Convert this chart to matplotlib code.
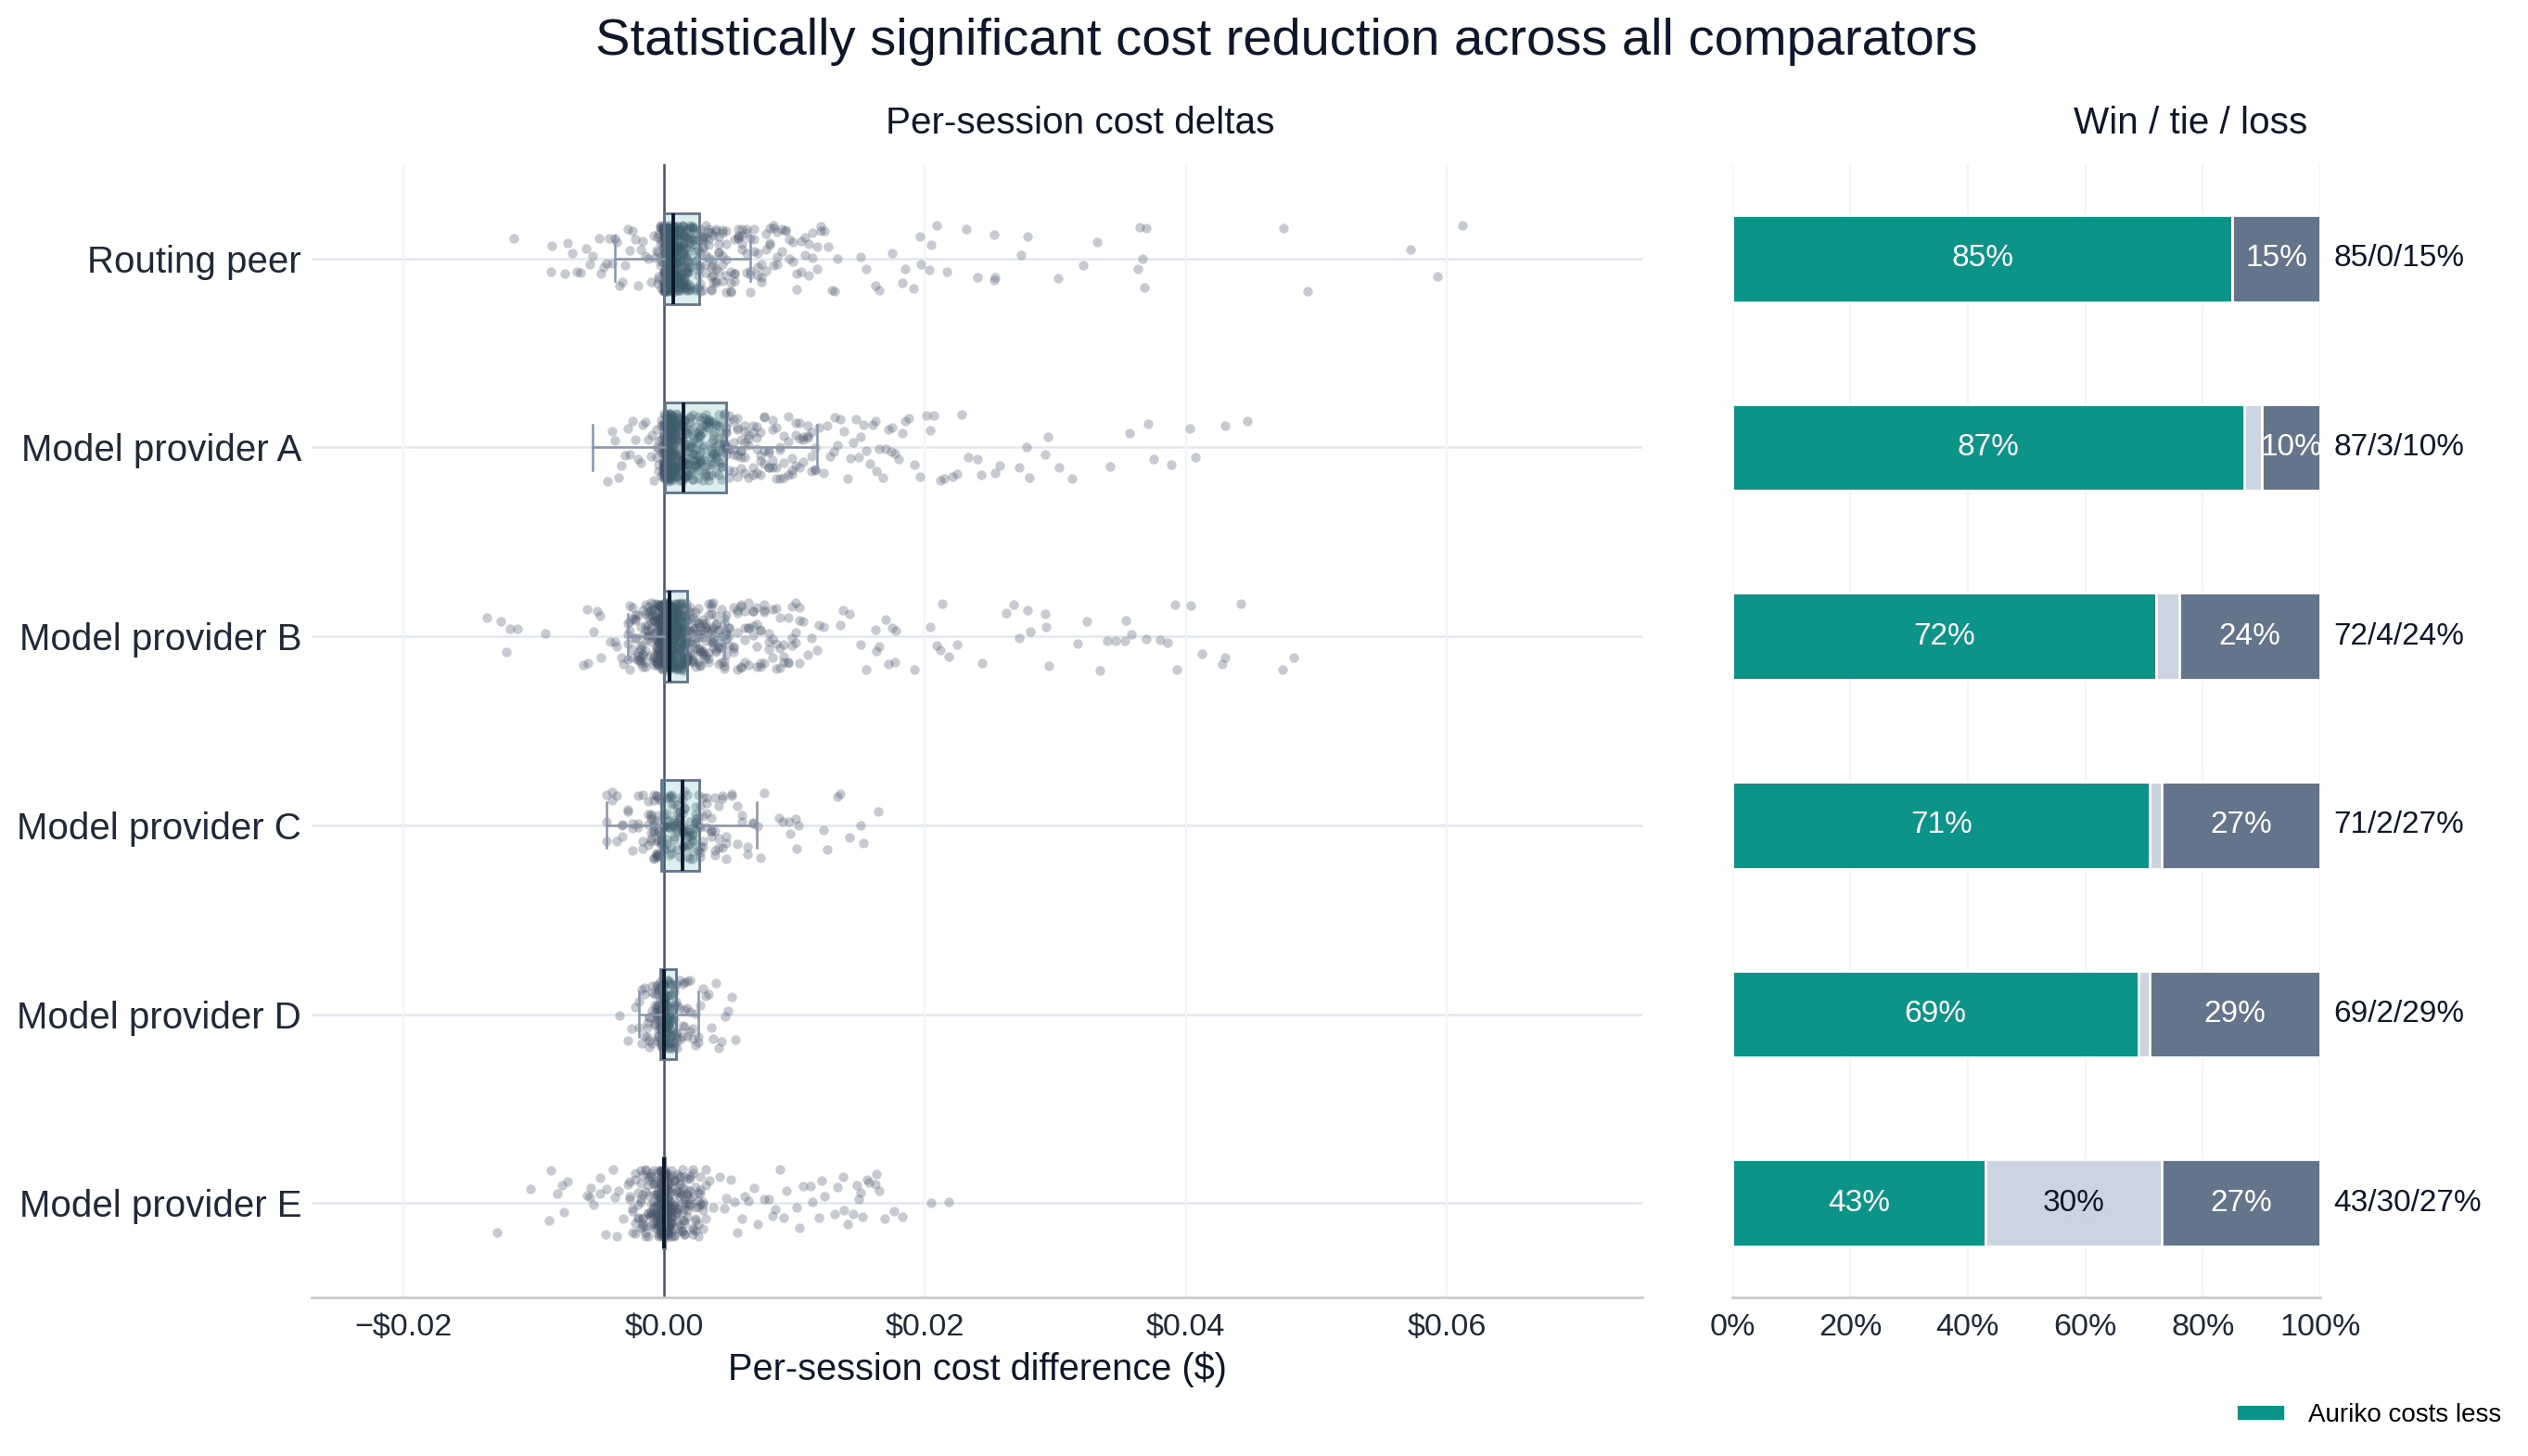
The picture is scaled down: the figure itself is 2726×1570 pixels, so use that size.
import numpy as np
import matplotlib
matplotlib.use("Agg")
import matplotlib.pyplot as plt

plt.rcParams['font.family'] = ['Liberation Sans', 'DejaVu Sans']

# ---------------- data ----------------
CATEGORIES = ["Routing peer", "Model provider A", "Model provider B",
              "Model provider C", "Model provider D", "Model provider E"]

# per-session cost deltas, in units of $0.0001 (dense core as value/count pairs + individual tail points)
ROUTING_CORE_X = [-5, -4, -3, -2, -1, 0, 1, 2, 3, 4, 5, 6, 7, 8, 9, 10, 11, 12, 13, 14, 15, 16, 17, 18, 19, 20,
                  22, 24, 26, 28, 30, 32, 34, 36, 38, 40,
                  42, 45, 48, 51, 54, 57, 60, 63, 66, 69, 72, 75, 78, 81, 84, 87, 90, 93, 96, 99, 102, 105,
                  108, 111, 114, 117, 120, 123, 126, 129]
ROUTING_CORE_N = [3, 3, 4, 6, 8, 20, 22, 22, 21, 20, 19, 18, 17, 15, 14, 13, 12, 12, 11, 10, 9, 9, 8, 8, 8, 7,
                  7, 7, 6, 6, 6, 5, 5, 5, 5, 5,
                  5, 5, 5, 4, 4, 4, 4, 4, 4, 3, 3, 3, 3, 3, 3, 3, 2, 2, 2, 2, 2, 2,
                  2, 2, 2, 2, 2, 1, 1, 1]
ROUTING_TAIL_X = [-115, -87, -86, -76, -74, -70, -67, -64, -60, -57, -55, -50, -48, -46, -44, -42, -40, -38,
                  -36, -34, -32, -30, -28, -26, -24, -22, -20, -18, -16, -14, -12, -10, -8, -7, -6,
                  131, 133, 151, 155, 162, 165, 175, 183, 185, 191, 196, 197, 203, 205, 209, 217, 232, 240,
                  253, 253, 254, 274, 279, 302, 321, 332, 363, 365, 367, 368, 370, 475, 493, 572, 593, 612]

PROV_A_CORE_X = [-6, -4, -2, -1, 0, 1, 2, 3, 4, 5, 6, 7, 8, 9, 10, 12, 14, 16, 18, 20, 22, 24, 26, 28, 30,
                 32, 34, 36, 38, 40, 42, 44, 46, 48,
                 50, 53, 56, 59, 62, 65, 68, 71, 74, 77, 80, 83, 86, 89, 92, 95, 98, 101, 104, 107, 110,
                 113, 116]
PROV_A_CORE_N = [3, 4, 5, 8, 20, 22, 22, 21, 20, 19, 18, 16, 15, 14, 13, 12, 12, 11, 11, 10, 10, 9, 9, 8, 8,
                 8, 8, 7, 7, 7, 7, 7, 6, 6,
                 5, 5, 5, 5, 5, 4, 4, 4, 4, 4, 4, 4, 3, 3, 3, 3, 3, 3, 3, 3, 3,
                 3, 3]
PROV_A_TAIL_X = [-43, -40, -38, -35, -33, -30, -28, -26, -24, -22, -20, -18, -16, -14, -12, -10, -9, -8,
                 119, 122, 125, 127, 130, 131, 133, 135, 138, 141, 143, 145, 147, 149, 151, 153,
                 155, 158, 160, 162, 163, 165, 168, 170, 172, 174, 175, 177, 180, 183, 185, 188, 192, 196,
                 201, 204, 207, 212, 215, 221, 225, 228, 233, 240, 243, 254, 257, 272, 278, 280, 292, 294,
                 303, 313, 342, 357, 371, 375, 389, 403, 407, 430, 447]

PROV_B_CORE_X = [-28, -26, -24, -22, -20, -18, -16, -14, -12, -10, -8, -6, -4, -3, -2, -1,
                 0, 1, 2, 3, 4, 5, 6, 7, 8, 9, 10, 11, 12, 13, 14, 15, 16, 17, 18,
                 20, 22, 24, 26, 28, 30, 32, 34, 36, 38, 40, 42, 44, 46, 48,
                 50, 53, 56, 59, 62, 65, 68, 71, 74, 77, 80, 83, 86, 89, 92, 95, 98, 101, 104]
PROV_B_CORE_N = [4, 4, 4, 5, 5, 6, 6, 7, 8, 9, 12, 15, 18, 20, 22, 25,
                 36, 34, 31, 28, 26, 23, 21, 19, 17, 15, 14, 13, 12, 11, 11, 10, 10, 9, 9,
                 8, 8, 7, 7, 7, 7, 6, 6, 6, 6, 5, 5, 5, 5, 5,
                 4, 4, 4, 4, 4, 4, 4, 4, 4, 4, 3, 3, 3, 3, 3, 3, 3, 3, 3]
PROV_B_TAIL_X = [-136, -125, -121, -118, -112, -91, -62, -59, -58, -54, -51, -49, -48, -41, -38, -36, -33, -31,
                 107, 110, 113, 117, 119, 122, 135, 137, 142, 151, 155, 162, 163, 165, 170, 172, 175, 177, 178,
                 192, 204, 209, 212, 213, 218, 225, 244, 262, 268, 272, 279, 281, 292, 293, 295, 317, 324,
                 334, 340, 346, 353, 354, 358, 370, 380, 386, 392, 393, 404, 412, 428, 430, 442, 474, 483]

PROV_C_CORE_X = [-44, -40, -36, -32, -28, -24, -20, -16, -12, -10, -8, -6, -4, -2,
                 0, 2, 4, 6, 8, 10, 12, 14, 16, 18, 20, 22, 24, 26, 28,
                 30, 33, 36, 39, 42, 45, 48, 52, 56, 60, 64, 68]
PROV_C_CORE_N = [3, 2, 2, 3, 2, 3, 3, 3, 4, 6, 8, 8, 7, 6,
                 6, 6, 6, 6, 6, 7, 7, 7, 6, 6, 6, 6, 6, 5, 5,
                 4, 4, 4, 4, 3, 3, 3, 2, 2, 2, 2, 2]
PROV_C_TAIL_X = [72, 74, 77, 88, 91, 96, 97, 101, 102, 103, 122, 125, 133, 135, 142, 151, 153, 164]

PROV_D_CORE_X = [-19, -17, -15, -13, -11, -9, -7, -6, -5, -4, -3, -2, -1, 0, 1, 2, 3, 4, 5, 6, 7, 8, 9,
                 10, 12, 14, 16, 18, 20, 22, 24, 26]
PROV_D_CORE_N = [2, 2, 3, 3, 4, 4, 5, 5, 6, 7, 9, 10, 12, 14, 12, 10, 9, 8, 7, 6, 5, 5, 4,
                 4, 3, 3, 3, 3, 3, 2, 2, 2]
PROV_D_TAIL_X = [-34, -28, -25, -22, 28, 30, 32, 34, 36, 38, 40, 42, 44, 47, 49, 52, 55]

PROV_E_CORE_X = [-26, -24, -22, -20, -18, -16, -14, -12, -10, -8, -6, -4, -3, -2, -1, 0, 1, 2, 3, 4,
                 6, 8, 10, 12, 14, 16, 18, 20, 22, 24, 26, 28, 30, 32]
PROV_E_CORE_N = [3, 3, 4, 4, 5, 6, 6, 7, 9, 10, 12, 14, 17, 20, 24, 32, 24, 20, 17, 14,
                 12, 10, 9, 9, 8, 8, 7, 6, 6, 5, 5, 4, 4, 3]
PROV_E_TAIL_X = [-128, -102, -88, -87, -82, -78, -77, -74, -59, -57, -56, -54, -49, -49, -45, -44, -39, -38,
                 -36, -35, -31, -28,
                 35, 38, 43, 46, 48, 51, 54, 56, 60, 62, 65, 69, 72, 77, 80, 83, 85, 89, 92, 94, 102, 104,
                 107, 112, 114, 119, 121, 123, 131, 133, 137, 138, 141, 145, 148, 149, 151, 152, 156, 157,
                 162, 163, 165, 169, 176, 183, 205, 218]

# box statistics ($)
BOX_Q1 = [0.0000, 0.0001, 0.0000, -0.0002, -0.0003, -0.0001]
BOX_MED = [0.0007, 0.0015, 0.0004, 0.0014, 0.0000, 0.0000]
BOX_Q3 = [0.0027, 0.0048, 0.0018, 0.0027, 0.0009, 0.0001]
WHIS_LO = [-0.0038, -0.0055, -0.0028, -0.0044, -0.0019, -0.0001]
WHIS_HI = [0.0066, 0.0117, 0.0046, 0.0071, 0.0026, 0.0001]

# win / tie / loss shares (%)
WIN = [85, 87, 72, 71, 69, 43]
TIE = [0, 3, 4, 2, 2, 30]
LOSS = [15, 10, 24, 27, 29, 27]

X_TICKS = [-0.02, 0.0, 0.02, 0.04, 0.06]
X_TICK_LABELS = ["\u2212\\$0.02", "\\$0.00", "\\$0.02", "\\$0.04", "\\$0.06"]
PCT_TICKS = [0, 20, 40, 60, 80, 100]
PCT_TICK_LABELS = ["0%", "20%", "40%", "60%", "80%", "100%"]

# ---------------- style ----------------
TEAL = "#0d9488"
TIE_C = "#cbd5e1"
LOSS_C = "#64748b"
DARK = "#0f172a"
TXT = "#1f2937"

cores = [(ROUTING_CORE_X, ROUTING_CORE_N, ROUTING_TAIL_X),
         (PROV_A_CORE_X, PROV_A_CORE_N, PROV_A_TAIL_X),
         (PROV_B_CORE_X, PROV_B_CORE_N, PROV_B_TAIL_X),
         (PROV_C_CORE_X, PROV_C_CORE_N, PROV_C_TAIL_X),
         (PROV_D_CORE_X, PROV_D_CORE_N, PROV_D_TAIL_X),
         (PROV_E_CORE_X, PROV_E_CORE_N, PROV_E_TAIL_X)]


def strip_offsets(n, seed):
    """Deterministic, hash-based vertical spread for a jittered strip (layout only)."""
    h = np.arange(n, dtype=np.uint64) + np.uint64(seed * 7919 + 1)
    m = np.uint64(0xFFFFFFFF)
    h = (((h >> np.uint64(16)) ^ h) * np.uint64(0x45D9F3B)) & m
    h = (((h >> np.uint64(16)) ^ h) * np.uint64(0x45D9F3B)) & m
    h = (h >> np.uint64(16)) ^ h
    return (h.astype(float) / 4294967296.0 - 0.5) * 0.36


fig = plt.figure(figsize=(13.63, 7.85), dpi=200)
axL = fig.add_axes([0.1233, 0.1089, 0.5264, 0.7784])
axR = fig.add_axes([0.6853, 0.1089, 0.2326, 0.7784])

# ---- left panel ----
for i, (cx, cn, tx) in enumerate(cores):
    vals = np.concatenate([np.repeat(cx, cn), np.asarray(tx)]) * 1e-4
    axL.scatter(vals, i + strip_offsets(len(vals), i), s=14, color="#475569", alpha=0.3,
                linewidths=0, zorder=2)
    axL.axhline(i, color="#e2e8f0", lw=0.9, zorder=0.5)

stats = [dict(med=BOX_MED[i], q1=BOX_Q1[i], q3=BOX_Q3[i], whislo=WHIS_LO[i], whishi=WHIS_HI[i], fliers=[])
         for i in range(len(CATEGORIES))]
bkw = dict(positions=list(range(len(CATEGORIES))), widths=0.48, patch_artist=True, showfliers=False,
           boxprops=dict(facecolor=(13 / 255, 148 / 255, 136 / 255, 0.14), edgecolor="#64748b", linewidth=1.0),
           medianprops=dict(color=DARK, linewidth=1.4),
           whiskerprops=dict(color="#8796ac", linewidth=0.9),
           capprops=dict(color="#8796ac", linewidth=0.9),
           capwidths=0.24, manage_ticks=False, zorder=3)
try:
    axL.bxp(stats, orientation="horizontal", **bkw)
except TypeError:
    axL.bxp(stats, vert=False, **bkw)

axL.axvline(0, color="#475569", lw=0.9, zorder=2.5)
axL.set_xlim(-0.027, 0.075)
axL.set_ylim(5.5, -0.5)
axL.set_xticks(X_TICKS)
axL.set_xticklabels(X_TICK_LABELS)
axL.set_yticks(range(len(CATEGORIES)))
axL.set_yticklabels(CATEGORIES)
axL.tick_params(axis="y", length=0, pad=4, labelsize=14.5, labelcolor=TXT)
axL.tick_params(axis="x", length=0, pad=6, labelsize=12.3, labelcolor=TXT)
axL.grid(axis="x", color="#f1f5f9", lw=0.8, zorder=0)
axL.set_axisbelow(True)
for s in ["top", "right", "left"]:
    axL.spines[s].set_visible(False)
axL.spines["bottom"].set_color("#cccccc")
axL.spines["bottom"].set_linewidth(1.0)
axL.set_xlabel("Per-session cost difference (\\$)", fontsize=14.3, color=DARK, labelpad=4)

# ---- right panel ----
ypos = np.arange(len(CATEGORIES))
win = np.array(WIN)
tie = np.array(TIE)
loss = np.array(LOSS)
b_win = axR.barh(ypos, win, height=0.46, color=TEAL, edgecolor="white", linewidth=1.0, zorder=2,
                 label="Auriko costs less")
axR.barh(ypos, tie, left=win, height=0.46, color=TIE_C, edgecolor="white", linewidth=1.0, zorder=2)
axR.barh(ypos, loss, left=win + tie, height=0.46, color=LOSS_C, edgecolor="white", linewidth=1.0, zorder=2)
for i in range(len(CATEGORIES)):
    if win[i] >= 10:
        axR.text(win[i] / 2, i, f"{win[i]}%", ha="center", va="center", color="white", fontsize=12)
    if tie[i] >= 10:
        axR.text(win[i] + tie[i] / 2, i, f"{tie[i]}%", ha="center", va="center", color=DARK, fontsize=12)
    if loss[i] >= 10:
        axR.text(win[i] + tie[i] + loss[i] / 2, i, f"{loss[i]}%", ha="center", va="center",
                 color="white", fontsize=12)
    axR.text(102.2, i, f"{win[i]}/{tie[i]}/{loss[i]}%", ha="left", va="center", color=DARK,
             fontsize=12, clip_on=False)

axR.set_xlim(0, 100)
axR.set_ylim(5.5, -0.5)
axR.set_xticks(PCT_TICKS)
axR.set_xticklabels(PCT_TICK_LABELS)
axR.set_yticks([])
axR.tick_params(axis="x", length=0, pad=6, labelsize=12.3, labelcolor=TXT)
axR.grid(axis="x", color="#f1f5f9", lw=0.8, zorder=0)
axR.set_axisbelow(True)
for s in ["top", "right", "left"]:
    axR.spines[s].set_visible(False)
axR.spines["bottom"].set_color("#cccccc")
axR.spines["bottom"].set_linewidth(1.0)

# ---- titles ----
fig.text(0.509, 0.9624, "Statistically significant cost reduction across all comparators",
         ha="center", va="baseline", fontsize=20.2, color=DARK)
fig.text(0.4274, 0.9083, "Per-session cost deltas", ha="center", va="baseline", fontsize=14.6, color=DARK)
fig.text(0.8665, 0.9083, "Win / tie / loss", ha="center", va="baseline", fontsize=14.6, color=DARK)

fig.legend(handles=[b_win], labels=["Auriko costs less"], loc="center left",
           bbox_to_anchor=(0.8845, 0.028), frameon=False, fontsize=10, borderpad=0, borderaxespad=0,
           handlelength=1.9, handleheight=0.6, handletextpad=0.9)

fig.savefig("out.png", dpi=200, facecolor="white")
